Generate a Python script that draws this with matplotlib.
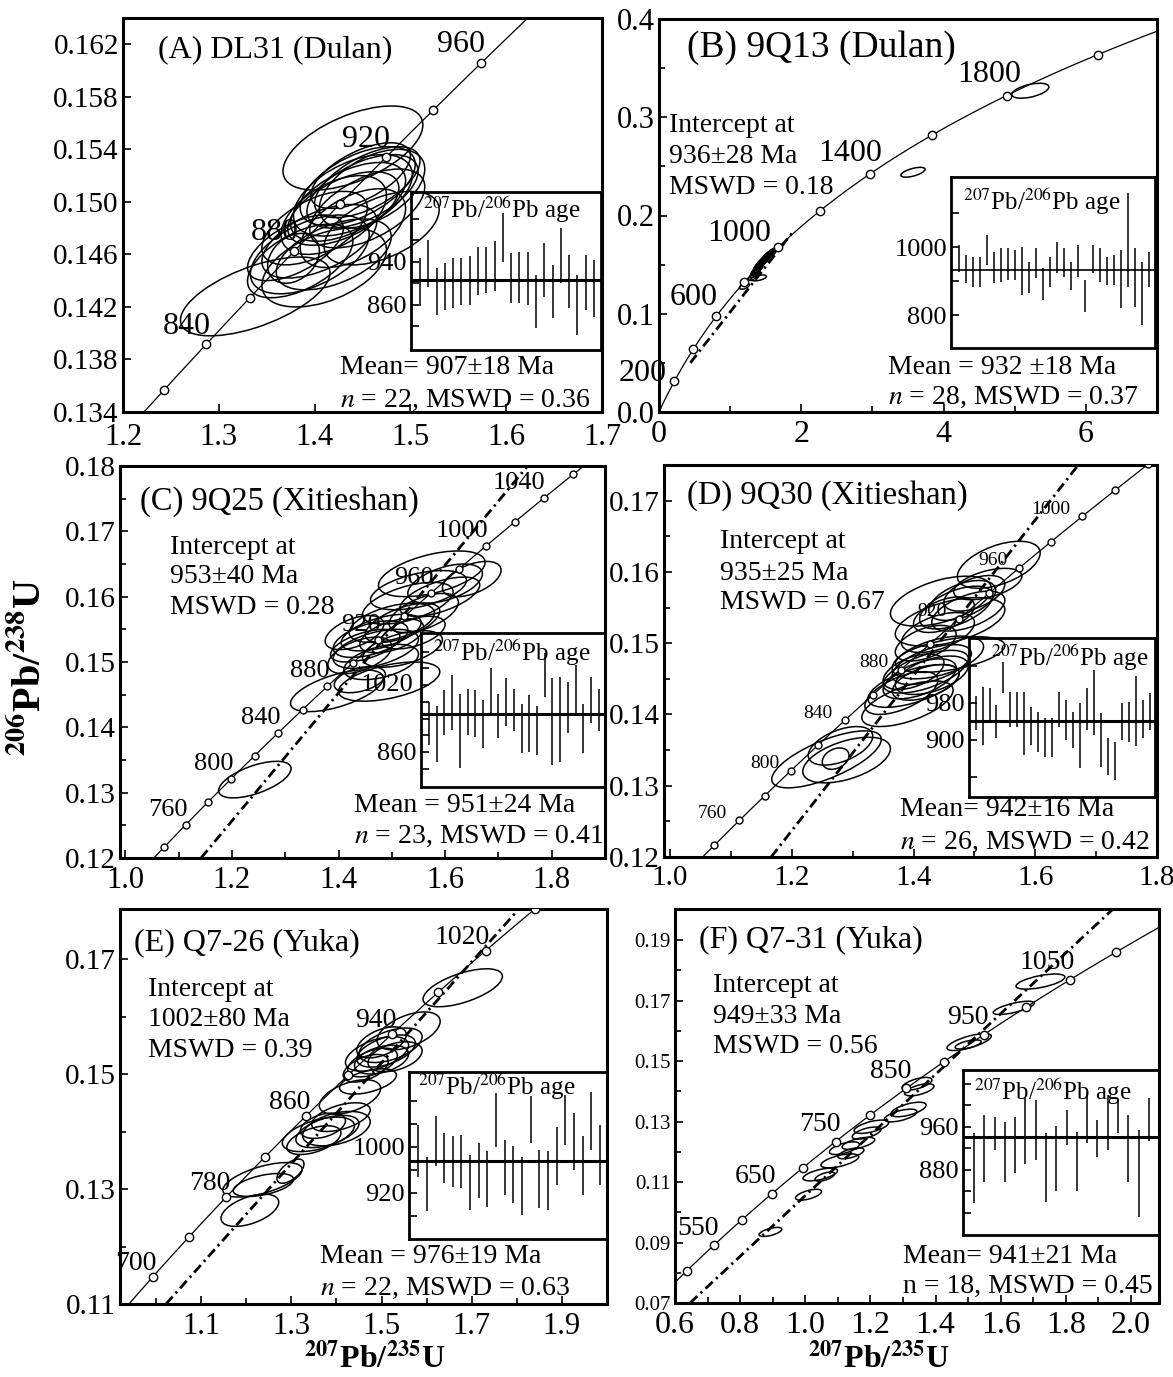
import numpy as np
import matplotlib
matplotlib.use("Agg")
import matplotlib.pyplot as plt
from matplotlib.patches import Ellipse
from matplotlib.transforms import Affine2D
from matplotlib.ticker import FixedLocator, FormatStrFormatter

plt.rcParams['font.family'] = ['Liberation Serif', 'DejaVu Serif']
plt.rcParams['mathtext.fontset'] = 'stix'

# U decay constants (per Ma) for the concordia reference curve
LAMBDA_238 = 1.55125e-4
LAMBDA_235 = 9.8485e-4

# ------------------------------------------------------------------ data
# ellipses: (207Pb/235U, 206Pb/238U, half-width x, half-height y, rho)
A_marked = [820, 840, 860, 880, 900, 920, 940, 960]
A_labeled = [840, 880, 920, 960]
A_ellipses = [
    (1.440, 0.1541, 0.073, 0.0032, 0.55), (1.338, 0.1428, 0.078, 0.0030, 0.60),
    (1.445, 0.1512, 0.060, 0.0030, 0.55), (1.450, 0.1508, 0.058, 0.0028, 0.55),
    (1.440, 0.1505, 0.062, 0.0031, 0.50), (1.455, 0.1515, 0.055, 0.0027, 0.60),
    (1.435, 0.1500, 0.060, 0.0030, 0.55), (1.460, 0.1510, 0.055, 0.0030, 0.50),
    (1.430, 0.1495, 0.058, 0.0028, 0.55), (1.448, 0.1520, 0.052, 0.0025, 0.60),
    (1.470, 0.1480, 0.060, 0.0028, 0.50), (1.420, 0.1490, 0.055, 0.0030, 0.50),
    (1.405, 0.1470, 0.060, 0.0028, 0.55), (1.395, 0.1460, 0.062, 0.0030, 0.50),
    (1.385, 0.1455, 0.055, 0.0028, 0.55), (1.410, 0.1450, 0.065, 0.0030, 0.45),
    (1.380, 0.1465, 0.050, 0.0025, 0.60), (1.420, 0.1460, 0.060, 0.0027, 0.50),
    (1.378, 0.1457, 0.027, 0.0019, 0.30), (1.440, 0.1480, 0.055, 0.0030, 0.50),
    (1.400, 0.1480, 0.055, 0.0028, 0.55), (1.455, 0.1495, 0.060, 0.0030, 0.55),
]
A_bar_lo = [857, 894, 841, 851, 854, 860, 860, 879, 882, 885, 940,
            863, 863, 860, 817, 875, 835, 900, 854, 804, 851, 838]
A_bar_hi = [947, 981, 928, 937, 947, 947, 950, 968, 968, 978, 1030,
            956, 959, 959, 916, 975, 934, 1003, 953, 916, 953, 944]
A_mean = 907

B_marked = [200, 400, 600, 800, 1000, 1200, 1400, 1600, 1800, 2000]
B_labeled = [200, 600, 1000, 1400, 1800]
B_disc_x = [0.44, 1.90]
B_disc_y = [0.050, 0.185]
B_ellipses = [
    (5.22, 0.327, 0.26, 0.0076, 0.5), (3.57, 0.244, 0.17, 0.0050, 0.6),
    (1.40, 0.1365, 0.11, 0.0030, 0.5), (1.20, 0.128, 0.07, 0.0030, 0.5),
    (1.33, 0.138, 0.07, 0.004, 0.7), (1.35, 0.141, 0.07, 0.004, 0.7),
    (1.36, 0.143, 0.07, 0.004, 0.7), (1.38, 0.145, 0.07, 0.004, 0.7),
    (1.39, 0.146, 0.07, 0.004, 0.7), (1.40, 0.148, 0.07, 0.004, 0.7),
    (1.41, 0.149, 0.07, 0.004, 0.7), (1.42, 0.150, 0.07, 0.004, 0.7),
    (1.43, 0.151, 0.07, 0.004, 0.7), (1.44, 0.152, 0.07, 0.004, 0.7),
    (1.45, 0.153, 0.07, 0.004, 0.7), (1.46, 0.153, 0.07, 0.004, 0.7),
    (1.47, 0.154, 0.07, 0.004, 0.7), (1.48, 0.155, 0.07, 0.004, 0.7),
    (1.49, 0.156, 0.07, 0.004, 0.7), (1.50, 0.156, 0.07, 0.004, 0.7),
    (1.51, 0.157, 0.07, 0.004, 0.7), (1.52, 0.158, 0.07, 0.004, 0.7),
    (1.53, 0.159, 0.07, 0.004, 0.7), (1.54, 0.160, 0.07, 0.004, 0.7),
    (1.55, 0.160, 0.07, 0.004, 0.7), (1.57, 0.161, 0.07, 0.004, 0.7),
    (1.58, 0.162, 0.07, 0.004, 0.7), (1.59, 0.163, 0.07, 0.004, 0.7),
]
B_bar_lo = [927, 893, 883, 883, 947, 893, 898, 903, 903, 859, 864, 908, 844, 883,
            923, 913, 874, 913, 810, 923, 898, 888, 888, 820, 883, 824, 771, 883]
B_bar_hi = [1005, 976, 972, 972, 1035, 986, 996, 996, 991, 1001, 957, 996, 937, 972,
            1016, 996, 957, 1006, 903, 1006, 996, 972, 976, 991, 1158, 996, 957, 986]
B_mean = 932

C_marked = [740, 760, 780, 800, 820, 840, 860, 880, 900, 920, 940, 960, 980, 1000,
            1020, 1040, 1060]
C_labeled = [760, 800, 840, 880, 920, 960, 1000, 1040]
C_disc_x = [1.142, 1.76]
C_disc_y = [0.120, 0.1805]
C_ellipses = [
    (1.243, 0.1320, 0.068, 0.0028, 0.60), (1.397, 0.1456, 0.087, 0.0032, 0.60),
    (1.495, 0.1470, 0.095, 0.0030, 0.50), (1.440, 0.1473, 0.048, 0.0020, 0.40),
    (1.650, 0.1627, 0.055, 0.0027, 0.50), (1.575, 0.1635, 0.100, 0.0035, 0.50),
    (1.550, 0.1610, 0.090, 0.0030, 0.50), (1.590, 0.1600, 0.075, 0.0030, 0.60),
    (1.530, 0.1590, 0.085, 0.0032, 0.55), (1.500, 0.1560, 0.080, 0.0030, 0.50),
    (1.480, 0.1545, 0.075, 0.0028, 0.55), (1.460, 0.1535, 0.070, 0.0028, 0.50),
    (1.520, 0.1560, 0.070, 0.0030, 0.60), (1.470, 0.1520, 0.080, 0.0030, 0.50),
    (1.450, 0.1525, 0.065, 0.0025, 0.55), (1.500, 0.1540, 0.060, 0.0026, 0.50),
    (1.560, 0.1575, 0.065, 0.0030, 0.55), (1.440, 0.1510, 0.060, 0.0028, 0.50),
    (1.520, 0.1520, 0.075, 0.0028, 0.50), (1.600, 0.1620, 0.070, 0.0030, 0.50),
    (1.480, 0.1500, 0.070, 0.0027, 0.45), (1.540, 0.1545, 0.060, 0.0025, 0.50),
    (1.430, 0.1545, 0.055, 0.0026, 0.50),
]
C_bar_lo = [877, 837, 901, 913, 821, 901, 897, 869, 945, 893, 921, 909,
            857, 861, 853, 992, 829, 837, 905, 945, 857, 929, 909]
C_bar_hi = [980, 969, 1008, 1044, 1000, 1012, 1008, 984, 1060, 1000, 1036, 1012,
            976, 996, 969, 1096, 1036, 1040, 1028, 1068, 976, 1040, 1012]
C_mean = 951

D_marked = [740, 760, 780, 800, 820, 840, 860, 880, 900, 920, 940, 960, 980, 1000,
            1020, 1040]
D_labeled = [760, 800, 840, 880, 920, 960, 1000]
D_disc_x = [1.166, 1.70]
D_disc_y = [0.120, 0.1782]
D_ellipses = [
    (1.257, 0.1337, 0.090, 0.0040, 0.70), (1.290, 0.1336, 0.072, 0.0032, 0.50),
    (1.280, 0.1356, 0.053, 0.0027, 0.50), (1.272, 0.1338, 0.022, 0.0015, 0.30),
    (1.390, 0.1415, 0.075, 0.0032, 0.60), (1.400, 0.1440, 0.075, 0.0030, 0.60),
    (1.420, 0.1460, 0.070, 0.0030, 0.60), (1.410, 0.1450, 0.060, 0.0028, 0.55),
    (1.430, 0.1470, 0.065, 0.0028, 0.55), (1.440, 0.1480, 0.075, 0.0030, 0.50),
    (1.460, 0.1484, 0.090, 0.0025, 0.50), (1.400, 0.1460, 0.050, 0.0025, 0.50),
    (1.420, 0.1445, 0.055, 0.0025, 0.50), (1.380, 0.1430, 0.060, 0.0030, 0.60),
    (1.430, 0.1455, 0.060, 0.0027, 0.50), (1.540, 0.1610, 0.068, 0.0033, 0.50),
    (1.522, 0.1583, 0.056, 0.0022, 0.50), (1.445, 0.1559, 0.083, 0.0035, 0.50),
    (1.460, 0.1530, 0.090, 0.0034, 0.50), (1.470, 0.1550, 0.060, 0.0030, 0.55),
    (1.480, 0.1560, 0.055, 0.0028, 0.50), (1.450, 0.1540, 0.050, 0.0025, 0.50),
    (1.490, 0.1545, 0.060, 0.0028, 0.55), (1.500, 0.1570, 0.050, 0.0025, 0.50),
    (1.440, 0.1515, 0.060, 0.0028, 0.50), (1.420, 0.1500, 0.050, 0.0025, 0.50),
]
D_bar_lo = [922, 889, 936, 904, 1001, 929, 929, 868, 889, 875, 864, 864, 929,
            900, 882, 839, 922, 911, 842, 824, 814, 900, 896, 886, 904, 922]
D_bar_hi = [994, 1015, 1012, 976, 1069, 1004, 1004, 1004, 972, 961, 947, 947, 1004,
            986, 961, 979, 1012, 1051, 958, 904, 896, 979, 983, 1037, 986, 1001]
D_mean = 942

E_marked = [700, 740, 780, 820, 860, 900, 940, 980, 1020, 1060]
E_labeled = [700, 780, 860, 940, 1020]
E_disc_x = [1.022, 1.80]
E_disc_y = [0.110, 0.1783]
E_ellipses = [
    (1.208, 0.1263, 0.064, 0.0028, 0.50), (1.236, 0.1316, 0.088, 0.0030, 0.60),
    (1.238, 0.1307, 0.067, 0.0020, 0.50), (1.298, 0.1331, 0.030, 0.0021, 0.60),
    (1.360, 0.1395, 0.080, 0.0030, 0.50), (1.380, 0.1400, 0.070, 0.0028, 0.50),
    (1.400, 0.1405, 0.075, 0.0030, 0.40), (1.350, 0.1385, 0.060, 0.0025, 0.50),
    (1.410, 0.1425, 0.065, 0.0025, 0.50), (1.370, 0.1410, 0.050, 0.0022, 0.40),
    (1.430, 0.1460, 0.068, 0.0030, 0.50), (1.470, 0.1487, 0.063, 0.0022, 0.50),
    (1.560, 0.1575, 0.070, 0.0033, 0.50), (1.680, 0.1650, 0.088, 0.0033, 0.60),
    (1.490, 0.1535, 0.070, 0.0030, 0.50), (1.510, 0.1540, 0.065, 0.0028, 0.50),
    (1.500, 0.1525, 0.060, 0.0025, 0.40), (1.520, 0.1550, 0.070, 0.0030, 0.50),
    (1.480, 0.1520, 0.055, 0.0025, 0.50), (1.530, 0.1530, 0.060, 0.0026, 0.40),
    (1.500, 0.1555, 0.055, 0.0027, 0.50), (1.465, 0.1510, 0.050, 0.0024, 0.50),
]
E_bar_lo = [948, 888, 966, 937, 931, 928, 890, 911, 896, 1000, 917,
            902, 882, 1006, 893, 890, 934, 1003, 960, 917, 995, 934]
E_bar_hi = [1038, 983, 1053, 1024, 1018, 1021, 986, 1006, 992, 1093, 1012,
            1002, 983, 1088, 994, 992, 1035, 1090, 1059, 1018, 1096, 1038]
E_mean = 976

F_marked = [500, 550, 600, 650, 700, 750, 800, 850, 900, 950, 1000, 1050, 1100]
F_labeled = [550, 650, 750, 850, 950, 1050]
F_disc_x = [0.646, 1.96]
F_disc_y = [0.070, 0.2018]
F_ellipses = [
    (0.893, 0.0935, 0.035, 0.0015, 0.6), (1.010, 0.1058, 0.040, 0.0018, 0.6),
    (1.046, 0.1125, 0.053, 0.0021, 0.6), (1.060, 0.1118, 0.030, 0.0015, 0.6),
    (1.106, 0.1170, 0.058, 0.0023, 0.6), (1.120, 0.1212, 0.046, 0.0021, 0.6),
    (1.163, 0.1228, 0.050, 0.0020, 0.6), (1.188, 0.1262, 0.044, 0.0020, 0.6),
    (1.203, 0.1283, 0.053, 0.0022, 0.6), (1.293, 0.1320, 0.050, 0.0021, 0.6),
    (1.317, 0.1340, 0.054, 0.0024, 0.6), (1.343, 0.1425, 0.046, 0.0021, 0.6),
    (1.350, 0.1405, 0.045, 0.0020, 0.6), (1.503, 0.1563, 0.068, 0.0028, 0.7),
    (1.500, 0.1555, 0.040, 0.0015, 0.6), (1.640, 0.1676, 0.063, 0.0022, 0.7),
    (1.722, 0.1763, 0.075, 0.0025, 0.6), (1.140, 0.1195, 0.040, 0.0018, 0.6),
]
F_bar_lo = [818, 858, 917, 858, 874, 892, 899, 821, 840, 926, 840, 930, 905, 917,
            948, 858, 793, 933]
F_bar_hi = [948, 982, 979, 970, 979, 1013, 1010, 948, 961, 992, 951, 1023, 973, 1020,
            1010, 982, 954, 1013]
F_mean = 941

# ------------------------------------------------------------------ layout
W, H = 1173, 1377
fig = plt.figure(figsize=(W / 100, H / 100), dpi=100)


def px_axes(l, r, t, b):
    return fig.add_axes([l / W, 1 - b / H, (r - l) / W, (b - t) / H])


def concordia_xy(age):
    a = np.asarray(age, dtype=float)
    return np.exp(LAMBDA_235 * a) - 1, np.exp(LAMBDA_238 * a) - 1


def style_spines(ax, lw):
    for s in ax.spines.values():
        s.set_linewidth(lw)


PANELS = [
    dict(box=(123, 602, 18, 412), xlim=(1.2, 1.7), ylim=(0.134, 0.164),
         xmaj=[1.2, 1.3, 1.4, 1.5, 1.6, 1.7], xmin=[], xfmt='%.1f',
         ymaj=[0.134, 0.138, 0.142, 0.146, 0.150, 0.154, 0.158, 0.162], ymin=[], yfmt='%.3f',
         xtfs=22, ytfs=21, xpad=8, marked=A_marked, labeled=A_labeled, ell=A_ellipses,
         disc=None, lab_fs=23, lab_off=[(4, 18)] * 4, ms=6,
         title='(A) DL31 (Dulan)', tpos=(0.073, 0.919), tfs=23,
         icpt=None, stats=('Mean= 907±18 Ma', r'$n$ = 22, MSWD = 0.36'),
         spos=(0.453, 0.112, 0.030),
         ibox=(411, 601, 192, 350), iylim=(776, 1070), imaj=[860, 940],
         imin=[820, 900, 980, 1020], imarg=(1.08, 0.84), ititle=(0.063, 0.886),
         lo=A_bar_lo, hi=A_bar_hi, mean=A_mean, mlw=2.2),
    dict(box=(659, 1157, 19, 412), xlim=(0, 7), ylim=(0, 0.4),
         xmaj=[0, 2, 4, 6], xmin=[1, 3, 5], xfmt='%d',
         ymaj=[0.0, 0.1, 0.2, 0.3, 0.4], ymin=[0.05, 0.15, 0.25, 0.35], yfmt='%.1f',
         xtfs=23, ytfs=22, xpad=6, marked=B_marked, labeled=B_labeled, ell=B_ellipses,
         disc=(B_disc_x, B_disc_y), lab_fs=23,
         lab_off=[(-8, 8), (1, 19), (-7, 14), (12, 20), (14, 21)], ms=6,
         title='(B) 9Q13 (Dulan)', tpos=(0.056, 0.926), tfs=27,
         icpt=(('Intercept at', '936±28 Ma', 'MSWD = 0.18'), 0.02, (0.730, 0.649, 0.570)),
         stats=('Mean = 932 ±18 Ma', r'$n$ = 28, MSWD = 0.37'),
         spos=(0.46, 0.112, 0.036),
         ibox=(951, 1155, 177, 348), iylim=(703, 1206), imaj=[800, 1000],
         imin=[700, 900, 1100], imarg=(1.09, 0.87), ititle=(0.059, 0.854),
         lo=B_bar_lo, hi=B_bar_hi, mean=B_mean, mlw=1.2),
    dict(box=(120, 605, 466, 858), xlim=(0.99, 1.9), ylim=(0.12, 0.18),
         xmaj=[1.0, 1.2, 1.4, 1.6, 1.8], xmin=[1.1, 1.3, 1.5, 1.7], xfmt='%.1f',
         ymaj=[0.12, 0.13, 0.14, 0.15, 0.16, 0.17, 0.18],
         ymin=[0.125, 0.135, 0.145, 0.155, 0.165, 0.175], yfmt='%.2f',
         xtfs=22, ytfs=21, xpad=6, marked=C_marked, labeled=C_labeled, ell=C_ellipses,
         disc=(C_disc_x, C_disc_y), lab_fs=19, lab_off=[(2, 15)] * 8, ms=5,
         title='(C) 9Q25 (Xitieshan)', tpos=(0.041, 0.908), tfs=23.5,
         icpt=(('Intercept at', '953±40 Ma', 'MSWD = 0.28'), 0.103, (0.793, 0.717, 0.640)),
         stats=('Mean = 951±24 Ma', r'$n$ = 23, MSWD = 0.41'),
         spos=(0.482, 0.135, 0.054),
         ibox=(421, 605, 633, 787), iylim=(776, 1145), imaj=[860],
         imin=[820, 900, 940, 980, 1020, 1060, 1100], imarg=(1.02, 0.8),
         ititle=(0.065, 0.87), lo=C_bar_lo, hi=C_bar_hi, mean=C_mean, mlw=2.2),
    dict(box=(664, 1157, 465, 857), xlim=(0.99, 1.80), ylim=(0.12, 0.175),
         xmaj=[1.0, 1.2, 1.4, 1.6, 1.8], xmin=[1.1, 1.3, 1.5, 1.7], xfmt='%.1f',
         ymaj=[0.12, 0.13, 0.14, 0.15, 0.16, 0.17],
         ymin=[0.125, 0.135, 0.145, 0.155, 0.165], yfmt='%.2f',
         xtfs=21, ytfs=21, xpad=6, marked=D_marked, labeled=D_labeled, ell=D_ellipses,
         disc=(D_disc_x, D_disc_y), lab_fs=14, lab_off=[(-12, 7)] * 7, ms=5,
         title='(D) 9Q30 (Xitieshan)', tpos=(0.047, 0.923), tfs=23.5,
         icpt=(('Intercept at', '935±25 Ma', 'MSWD = 0.67'), 0.114, (0.804, 0.724, 0.648)),
         stats=('Mean= 942±16 Ma', r'$n$ = 26, MSWD = 0.42'),
         spos=(0.479, 0.12, 0.038),
         ibox=(969, 1155, 638, 797), iylim=(777, 1120), imaj=[900, 980],
         imin=[820, 1060], imarg=(0.95, 0.78), ititle=(0.118, 0.874),
         lo=D_bar_lo, hi=D_bar_hi, mean=D_mean, mlw=2.2),
    dict(box=(120, 607, 909, 1304), xlim=(0.92, 2.0), ylim=(0.11, 0.1787),
         xmaj=[1.1, 1.3, 1.5, 1.7, 1.9], xmin=[1.0, 1.2, 1.4, 1.6, 1.8], xfmt='%.1f',
         ymaj=[0.11, 0.13, 0.15, 0.17], ymin=[0.12, 0.14, 0.16], yfmt='%.2f',
         xtfs=22, ytfs=21, xpad=6, marked=E_marked, labeled=E_labeled, ell=E_ellipses,
         disc=(E_disc_x, E_disc_y), lab_fs=20, lab_off=[(4, 13)] * 5, ms=6,
         title='(E) Q7-26 (Yuka)', tpos=(0.029, 0.914), tfs=23,
         icpt=(('Intercept at', '1002±80 Ma', 'MSWD = 0.39'), 0.0575, (0.795, 0.719, 0.643)),
         stats=('Mean = 976±19 Ma', r'$n$ = 22, MSWD = 0.63'),
         spos=(0.41, 0.119, 0.04),
         ibox=(409, 607, 1072, 1239), iylim=(840, 1130), imaj=[920, 1000],
         imin=[880, 960, 1040, 1080], imarg=(1.06, 0.8), ititle=(0.045, 0.91),
         lo=E_bar_lo, hi=E_bar_hi, mean=E_mean, mlw=2.2),
    dict(box=(675, 1159, 909, 1303), xlim=(0.6, 2.086), ylim=(0.07, 0.2003),
         xmaj=[0.6, 0.8, 1.0, 1.2, 1.4, 1.6, 1.8, 2.0], xmin=[0.7, 0.9, 1.1, 1.3, 1.5, 1.7, 1.9],
         xfmt='%.1f',
         ymaj=[0.07, 0.09, 0.11, 0.13, 0.15, 0.17, 0.19],
         ymin=[0.08, 0.10, 0.12, 0.14, 0.16, 0.18, 0.20], yfmt='%.2f',
         xtfs=23, ytfs=15, xpad=6, marked=F_marked, labeled=F_labeled, ell=F_ellipses,
         disc=(F_disc_x, F_disc_y), lab_fs=20, lab_off=[(5, 17)] * 6, ms=6,
         title='(F) Q7-31 (Yuka)', tpos=(0.05, 0.921), tfs=23,
         icpt=(('Intercept at', '949±33 Ma', 'MSWD = 0.56'), 0.0785, (0.807, 0.726, 0.65)),
         stats=('Mean= 941±21 Ma', 'n = 18, MSWD = 0.45'),
         spos=(0.471, 0.117, 0.041),
         ibox=(963, 1159, 1070, 1235), iylim=(759, 1066), imaj=[880, 960],
         imin=[800, 840, 920, 1000, 1040], imarg=(1.06, 0.98), ititle=(0.056, 0.867),
         lo=F_bar_lo, hi=F_bar_hi, mean=F_mean, mlw=2.2),
]

DASH = (0, (3.6, 1.6, 0.8, 1.6))

for k, P in enumerate(PANELS):
    ax = px_axes(*P['box'])
    ax.set_xlim(*P['xlim'])
    ax.set_ylim(*P['ylim'])
    style_spines(ax, 2.2)
    ax.xaxis.set_major_locator(FixedLocator(P['xmaj']))
    ax.xaxis.set_minor_locator(FixedLocator(P['xmin']))
    ax.yaxis.set_major_locator(FixedLocator(P['ymaj']))
    ax.yaxis.set_minor_locator(FixedLocator(P['ymin']))
    ax.xaxis.set_major_formatter(FormatStrFormatter(P['xfmt']))
    ax.yaxis.set_major_formatter(FormatStrFormatter(P['yfmt']))
    ax.tick_params(which='both', direction='in', width=1.2)
    ax.tick_params(which='major', length=6)
    ax.tick_params(which='minor', length=4)
    ax.tick_params(axis='x', labelsize=P['xtfs'], pad=P['xpad'])
    ax.tick_params(axis='y', labelsize=P['ytfs'], pad=3)

    # concordia reference curve
    t = np.linspace(0, 2400, 1500)
    cx, cy = concordia_xy(t)
    ax.plot(cx, cy, color='k', lw=0.9, zorder=3)

    # discordia
    if P['disc'] is not None:
        ax.plot(P['disc'][0], P['disc'][1], color='k', lw=2.0, ls=DASH, zorder=2)

    # error ellipses
    for (ex, ey, sx, sy, r) in P['ell']:
        m = np.array([[sx, 0.0, ex], [r * sy, sy * np.sqrt(1 - r * r), ey], [0, 0, 1]])
        tr = Affine2D(m) + ax.transData
        ax.add_patch(Ellipse((0, 0), 2, 2, transform=tr, fill=False, ec='k', lw=1.1, zorder=2))

    # age marks on concordia
    mx, my = concordia_xy(P['marked'])
    ax.plot(mx, my, ls='none', marker='o', ms=P['ms'], mfc='white', mec='k', mew=1.0, zorder=4)
    for age, off in zip(P['labeled'], P['lab_off']):
        lx, ly = concordia_xy(age)
        ax.annotate(str(age), (float(lx), float(ly)), xytext=off, textcoords='offset pixels',
                    ha='right', va='center', fontsize=P['lab_fs'], zorder=5,
                    annotation_clip=False)

    ax.text(P['tpos'][0], P['tpos'][1], P['title'], transform=ax.transAxes,
            ha='left', va='center', fontsize=P['tfs'])
    if P['icpt'] is not None:
        lines, x0, ys = P['icpt']
        for s, yy in zip(lines, ys):
            ax.text(x0, yy, s, transform=ax.transAxes, ha='left', va='center', fontsize=20)
    sx0, sy1, sy2 = P['spos']
    ax.text(sx0, sy1, P['stats'][0], transform=ax.transAxes, ha='left', va='center', fontsize=20)
    ax.text(sx0, sy2, P['stats'][1], transform=ax.transAxes, ha='left', va='center', fontsize=20)

    if k == 2:
        ax.text(0.604, 0.441, '1020', transform=ax.transAxes, ha='right', va='center',
                fontsize=P['lab_fs'])

    # inset: 207Pb/206Pb ages
    ia = px_axes(*P['ibox'])
    ia.set_facecolor('none')
    style_spines(ia, 2.0)
    n = len(P['lo'])
    idx = np.arange(1, n + 1)
    ia.vlines(idx, P['lo'], P['hi'], color='k', lw=1.1)
    ia.axhline(P['mean'], color='k', lw=P['mlw'])
    ia.set_xlim(1 - P['imarg'][0], n + P['imarg'][1])
    ia.set_ylim(*P['iylim'])
    ia.set_xticks([])
    ia.yaxis.set_major_locator(FixedLocator(P['imaj']))
    ia.yaxis.set_minor_locator(FixedLocator(P['imin']))
    ia.yaxis.set_major_formatter(FormatStrFormatter('%d'))
    ia.tick_params(axis='y', which='both', direction='in', width=1.2, labelsize=19, pad=3)
    ia.tick_params(axis='y', which='major', length=6)
    ia.tick_params(axis='y', which='minor', length=6)
    ia.text(P['ititle'][0], P['ititle'][1], r'$^{207}$Pb/$^{206}$Pb age',
            transform=ia.transAxes, ha='left', va='center', fontsize=18)

fig.text(30 / W, 1 - 667 / H, r'$^{\mathbf{206}}$Pb/$^{\mathbf{238}}$U', rotation=90,
         ha='center', va='center', fontsize=29, fontweight='bold')
fig.text(375 / W, 1 - 1358 / H, r'$^{\mathbf{207}}$Pb/$^{\mathbf{235}}$U',
         ha='center', va='center', fontsize=23, fontweight='bold')
fig.text(879 / W, 1 - 1358 / H, r'$^{\mathbf{207}}$Pb/$^{\mathbf{235}}$U',
         ha='center', va='center', fontsize=23, fontweight='bold')

fig.savefig('out.png', dpi=100)
